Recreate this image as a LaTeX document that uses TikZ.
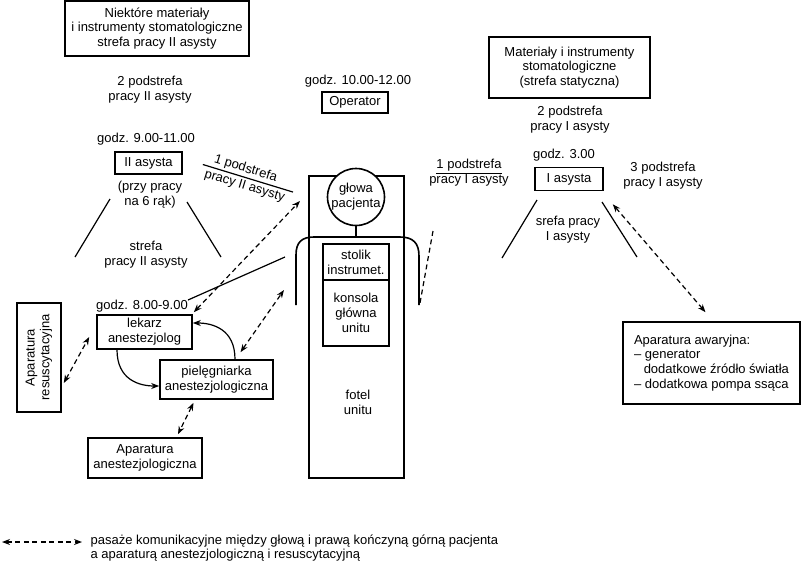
\documentclass[tikz,border=0pt]{standalone}
\usepackage{fontspec}
\setmainfont{Liberation Sans}
\usepackage{tikz}
\usetikzlibrary{arrows.meta}

\begin{document}
\begin{tikzpicture}[x=1pt, y=-1pt, line width=1.2pt,
  every node/.style={font=\fontsize{13}{14.8}\selectfont, align=center, inner sep=0pt},
  box/.style={draw, line width=1.6pt},
  pas/.style={<->, >={Stealth[length=8pt,width=6pt]}, dash pattern=on 5pt off 3.5pt, line width=1.2pt},
  ruch/.style={->, >={Stealth[length=8pt,width=6pt]}, line width=1.2pt}]
\useasboundingbox (0,0) rectangle (801,563);

\node[box, minimum width=184pt, minimum height=55pt] (mat2) at (157,28.5) {Niektóre materiały\\i instrumenty stomatologiczne\\strefa pracy II asysty};
\node (pod2b) at (150,89.5) {2 podstrefa\\pracy II asysty};
\node (g9) at (146,139) {godz. 9.00-11.00};
\node[box, minimum width=67pt, minimum height=22pt] (as2) at (148.5,163) {II asysta};
\node (sz) at (150,195) {(przy pracy\\na 6 rąk)};
\node (str2) at (146,254.5) {strefa\\pracy II asysty};
\draw (110,199) -- (75,257);
\draw (187,202) -- (221,257);
\node[rotate=-17] (pod1b) at (247,178) {\hspace*{-8pt}1 podstrefa\\[2pt]pracy II asysty};
\draw[shorten <=-4pt, shorten >=-6pt] (pod1b.west) -- (pod1b.east);

\node (g10) at (358,81) {godz. 10.00-12.00};
\node[box, minimum width=66pt, minimum height=21pt] (oper) at (355,102.5) {Operator};

\node[box, minimum width=95pt, minimum height=302pt] (fotel) at (356.5,327) {};
\node (fotelt) at (358,402) {fotel\\unitu};
\node[box, minimum width=66pt, minimum height=36pt] (stolik) at (356,262) {stolik\\instrumet.};
\node[box, minimum width=66pt, minimum height=66pt] (konsola) at (356,313) {konsola\\główna\\unitu};
\draw[line width=1.6pt] (296,305) -- (296,255) .. controls (296,242) and (302,237) .. (314,237) -- (400,237) .. controls (413,237) and (419,243) .. (419,256) -- (419,305);
\node[circle, draw, fill=white, line width=1.6pt, minimum size=57pt] (glowa) at (356,197) {głowa\\pacjenta};
\draw[line width=1.6pt] (glowa.south) -- (356,237);
\draw[dash pattern=on 5pt off 3.5pt] (433,231) -- (420,303);

\node (pod1a) at (469,173) {\underline{1 podstrefa}\\pracy I asysty};
\node[box, minimum width=161pt, minimum height=61pt] (mat1) at (569.5,67.5) {Materiały i instrumenty\\stomatologiczne\\(strefa statyczna)};
\node (pod2a) at (570,119.5) {2 podstrefa\\pracy I asysty};
\node (g3) at (564,155) {godz. 3.00};
\node[box, minimum width=68pt, minimum height=23pt] (as1) at (569,179) {I asysta};
\node (pod3a) at (663,175.5) {3 podstrefa\\pracy I asysty};
\node (str1) at (568,229.5) {srefa pracy\\I asysty};
\draw (537,200) -- (502,258);
\draw (602,202) -- (637,257);
\node[box, minimum width=177pt, minimum height=82pt, align=left] (awar) at (711.5,363) {Aparatura awaryjna:\\– generator\\\hspace*{0.75em}dodatkowe źródło światła\\– dodatkowa pompa ssąca};
\draw[pas] ([xshift=9pt,yshift=-13pt]as1.south east) -- ([xshift=-6pt,yshift=9pt]awar.north);

\node[box, minimum width=44pt, minimum height=109pt] (res) at (39,357.5) {\rotatebox{90}{\begin{tabular}{@{}c@{}}Aparatura\\resuscytacyjna\end{tabular}}};
\node (g8) at (142,306) {godz. 8.00-9.00};
\node[box, minimum width=95pt, minimum height=34pt] (lek) at (144.5,332) {lekarz\\anestezjolog};
\node[box, minimum width=113pt, minimum height=39pt] (piel) at (216.5,379.5) {pielęgniarka\\anestezjologiczna};
\node[box, minimum width=114pt, minimum height=40pt] (apan) at (145,458) {Aparatura\\anestezjologiczna};
\draw (188,300) -- (285,257);

\coordinate (glo1) at (300,201);
\coordinate (ramie) at (284,290);
\draw[pas] ([xshift=1pt,yshift=2pt]lek.north east) -- (glo1);
\draw[pas] ([xshift=24pt,yshift=7pt]piel.north) -- (ramie);
\draw[pas] ([xshift=2pt,yshift=-25.5pt]res.east) -- ([xshift=-7pt,yshift=-5pt]lek.west);
\draw[pas] ([xshift=-23pt,yshift=-3pt]piel.south) -- ([xshift=33pt,yshift=3pt]apan.north);
\draw[ruch] ([xshift=-27.5pt]lek.south) .. controls ([xshift=-27.5pt,yshift=-30pt]lek.south) and ([xshift=-20pt,yshift=-6.5pt]piel.west) .. ([yshift=-6.5pt]piel.west);
\draw[ruch] ([xshift=18.5pt]piel.north) .. controls ([xshift=18.5pt,yshift=30pt]piel.north) and ([xshift=20pt,yshift=9pt]lek.east) .. ([yshift=9pt]lek.east);

\coordinate (leg1) at (2,542);
\coordinate (leg2) at (82,542);
\draw[pas] (leg1) -- (leg2);
\node[anchor=west, align=left] (legt) at (90,548) {pasaże komunikacyjne między głową i prawą kończyną górną pacjenta\\a aparaturą anestezjologiczną i resuscytacyjną};
\end{tikzpicture}
\end{document}
